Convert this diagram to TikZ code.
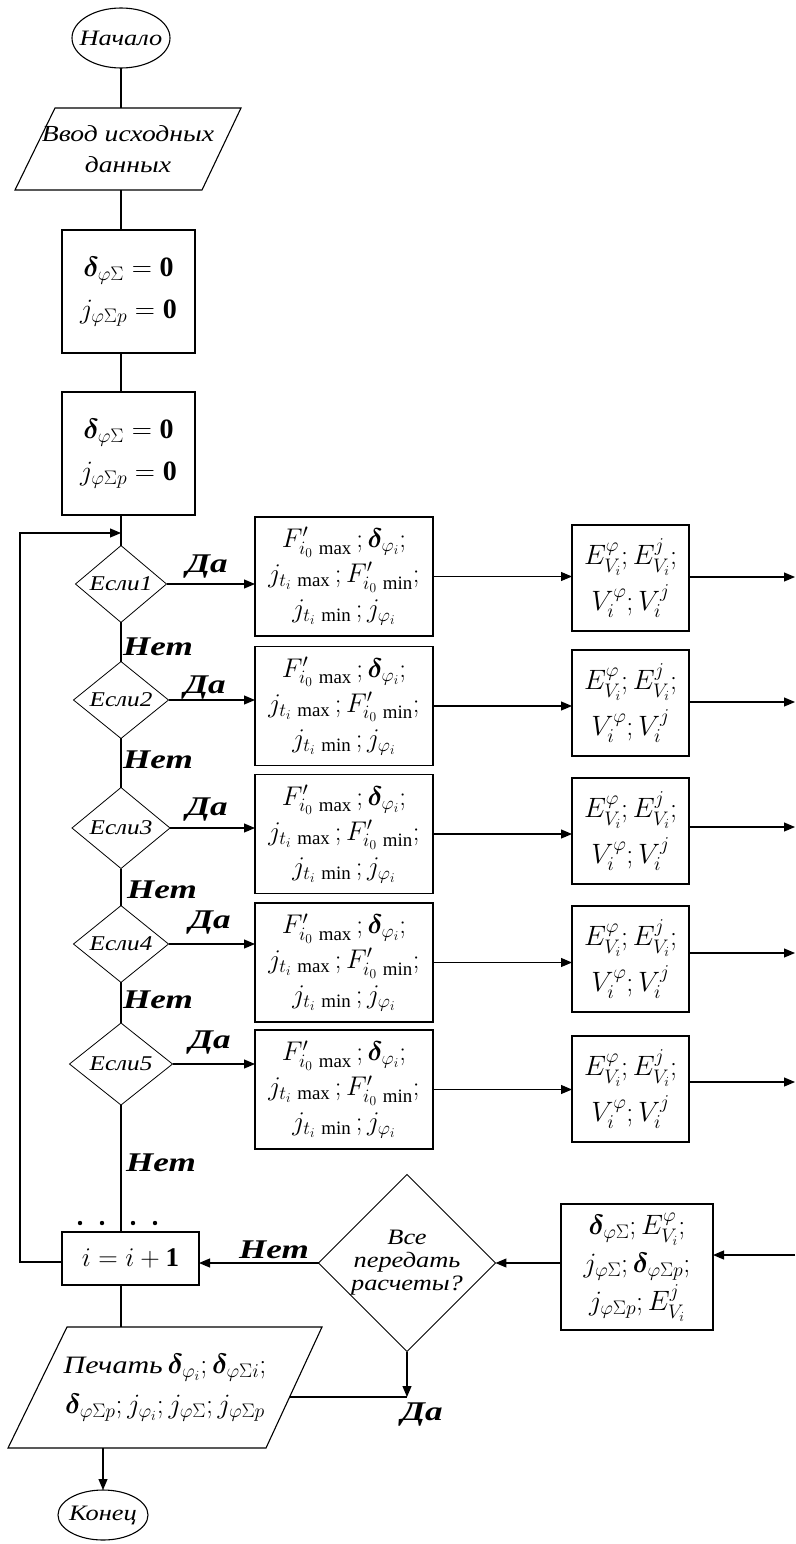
\RequirePackage{fix-cm}
\documentclass[tikz,border=0pt]{standalone}
\usepackage{amsmath}
\usepackage{bm}
\usepackage{fontspec}
\setmainfont{Liberation Serif}
\newfontfamily\ru[FakeStretch=1.2]{Liberation Serif}
\newfontfamily\lb[FakeStretch=1.3]{Liberation Serif}
\usetikzlibrary{shapes.geometric,arrows.meta}
\begin{document}
\begin{tikzpicture}[x=1pt,y=-1pt,
  every node/.style={inner sep=0pt, outer sep=0pt},
  ln/.style={line width=1.1pt},
  arr/.style={ln, -{Triangle[length=11pt,width=9pt]}},
  term/.style={font=\ru\itshape\fontsize{22}{26}\selectfont},
  txt/.style={align=center, font=\ru\itshape\fontsize{23}{31}\selectfont},
  box/.style={draw, ln, align=center, font=\fontsize{28}{34}\selectfont},
  cond/.style={draw, line width=0.8pt, diamond, align=center, font=\ru\itshape\fontsize{21}{22}\selectfont},
  yes/.style={font=\lb\bfseries\itshape\fontsize{27}{28}\selectfont},
  mathbox/.style={draw, ln, align=center, font=\fontsize{27}{35}\selectfont}]
\useasboundingbox (0,0) rectangle (795,1544);
\coordinate (m) at (121,0);

% start
\node[term, minimum width=98pt, minimum height=60pt] (S) at (121,38) {Начало};
\draw[ln] (S.center) ellipse [x radius=49, y radius=30];
% input
\draw[ln] (55,108) -- (241,108) -- (202,190) -- (15,190) -- cycle;
\node[txt, minimum width=150pt, minimum height=82pt] (In) at (128,149) {Ввод исходных\\данных};
% init boxes
\node[box, minimum width=133pt, minimum height=123pt] (B1) at (128.5,291.5)
  {$\bm{\delta}_{\varphi\Sigma}=\mathbf{0}$\\[8pt]$j_{\varphi\Sigma p}=\mathbf{0}$};
\node[box, minimum width=133pt, minimum height=123pt] (B2) at (128.5,453.5)
  {$\bm{\delta}_{\varphi\Sigma}=\mathbf{0}$\\[8pt]$j_{\varphi\Sigma p}=\mathbf{0}$};

% conditions
\node[cond, minimum width=91pt, minimum height=75pt] (D1) at (121,584) {Если1};
\node[cond, minimum width=95pt, minimum height=76pt] (D2) at (121,700) {Если2};
\node[cond, minimum width=98pt, minimum height=81pt] (D3) at (121,828) {Если3};
\node[cond, minimum width=95pt, minimum height=67pt] (D4) at (121,944) {Если4};
\node[cond, minimum width=103pt, minimum height=82pt] (D5) at (121,1064) {Если5};

% F boxes
\foreach \k/\y in {1/576.5, 2/706, 3/834, 4/962.5, 5/1089.5}{
  \node[mathbox, minimum width=178pt, minimum height=119pt] (F\k) at (344,\y)
    {$F'_{i_0\,\max}\,;\bm{\delta}_{\varphi_i};$\\$j_{t_i\,\max}\,;F'_{i_0\,\min};$\\$j_{t_i\,\min}\,;j_{\varphi_i}$};
}
% E boxes
\foreach \k/\y in {1/578, 2/703, 3/831, 4/959, 5/1089}{
  \node[mathbox, font=\fontsize{28}{40}\selectfont, minimum width=117pt, minimum height=106pt] (E\k) at (630.5,\y)
    {$E^{\varphi}_{V_i};E^{j}_{V_i};$\\[6pt]$V_i^{\varphi};V_i^{j}$};
}
\coordinate (r1) at (795,577);
\coordinate (r2) at (795,702);
\coordinate (r3) at (795,827);
\coordinate (r4) at (795,953);
\coordinate (r5) at (795,1082);

% counter box
\node[box, minimum width=137pt, minimum height=53pt, font=\fontsize{27}{30}\selectfont] (I) at (130.5,1258.5) {$i=i+\mathbf{1}$};
% all-transfer decision
\node[cond, minimum width=161pt, minimum height=160pt, font=\ru\itshape\fontsize{22}{23}\selectfont] (A) at (407,1263) {Все\\передать\\расчеты?};
% result box
\node[mathbox, font=\fontsize{28}{38}\selectfont, minimum width=152pt, minimum height=126pt] (R) at (637,1267)
  {$\bm{\delta}_{\varphi\Sigma};E^{\varphi}_{V_i};$\\$j_{\varphi\Sigma};\bm{\delta}_{\varphi\Sigma p};$\\$j_{\varphi\Sigma p};E^{j}_{V_i}$};
\coordinate (rin) at (795,1255);

% print
\draw[ln] (67,1327) -- (322,1327) -- (266,1448) -- (8,1448) -- cycle;
\node[align=center, minimum height=121pt, font=\fontsize{28}{40}\selectfont] (P) at (165,1387.5)
  {{\ru\itshape\fontsize{25}{28}\selectfont Печать}$\,\bm{\delta}_{\varphi_i};\bm{\delta}_{\varphi\Sigma i};$\\$\bm{\delta}_{\varphi\Sigma p};j_{\varphi_i};j_{\varphi\Sigma};j_{\varphi\Sigma p}$};
\coordinate (J) at (407,1397);
\coordinate (Pr) at (290,1397);
% end
\node[term, minimum width=90pt, minimum height=50pt] (End) at (103,1515) {Конец};
\draw[ln] (End.center) ellipse [x radius=45, y radius=25];

% main trunk
\draw[ln] (S.south -| m) -- (In.north -| m);
\draw[ln] (In.south -| m) -- (B1.north -| m);
\draw[ln] (B1.south -| m) -- (B2.north -| m);
\draw[ln] (B2.south -| m) -- (D1.north);
\draw[ln] (D1.south) -- (D2.north);
\draw[ln] (D2.south) -- (D3.north);
\draw[ln] (D3.south) -- (D4.north);
\draw[ln] (D4.south) -- (D5.north);
\draw[ln] (D5.south) -- (I.north -| D5.south);
\draw[ln] (I.south -| m) -- (P.north -| m);
\draw[arr] (P.south -| End.north) -- (End.north);

% loop back
\coordinate (L0) at (20,1262);
\coordinate (L1) at (20,533);
\draw[arr] (I.west |- L0) -- (L0) -- (L1) -- (L1 -| m);

% branches
\foreach \k in {1,...,5}{
  \draw[arr] (D\k.east) -- (D\k.east -| F\k.west);
  \draw[arr] (F\k.east) -- (F\k.east -| E\k.west);
  \draw[arr] (E\k.east |- r\k) -- (r\k);
}
\draw[arr] (rin) -- (rin -| R.east);
\draw[arr] (R.west |- A.east) -- (A.east);
\draw[arr] (A.west) -- (A.west -| I.east);
\draw[arr] (A.south) -- (J);
\draw[ln] (Pr) -- (J);

% dots above counter box
\foreach \x in {80,102,133,155} \fill (\x,1223) circle (2.2pt);

% labels
\node[yes] (y1) at (207,567) {Да};
\node[yes] (y2) at (205,688) {Да};
\node[yes] (y3) at (207,810) {Да};
\node[yes] (y4) at (210,923) {Да};
\node[yes] (y5) at (210,1043) {Да};
\node[yes] (y6) at (422,1415) {Да};
\node[yes] (n1) at (158,647) {Нет};
\node[yes] (n2) at (158,760) {Нет};
\node[yes] (n3) at (162,890) {Нет};
\node[yes] (n4) at (158,1000) {Нет};
\node[yes] (n5) at (161,1163) {Нет};
\node[yes] (n6) at (274,1250) {Нет};
\end{tikzpicture}
\end{document}
